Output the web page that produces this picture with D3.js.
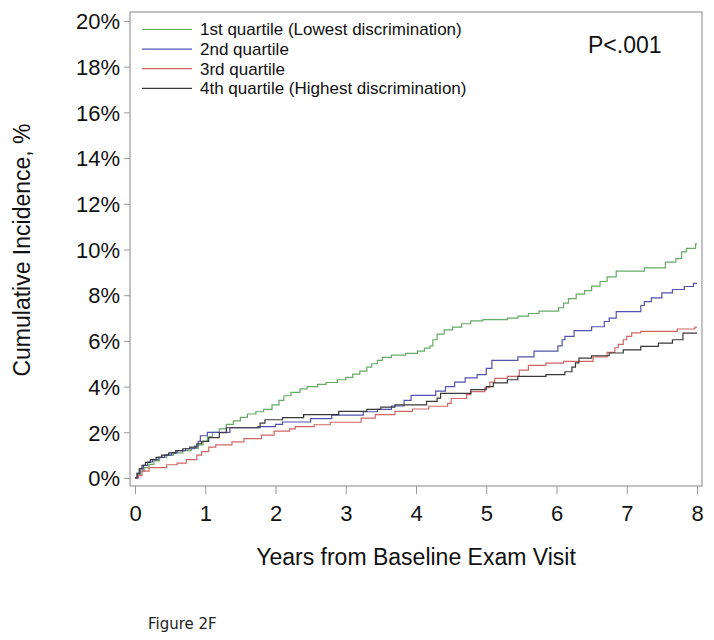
<!DOCTYPE html>
<html><head><meta charset="utf-8">
<script src="https://cdn.jsdelivr.net/npm/d3@7"></script>
<style>body{margin:0;background:#fff;} svg{display:block;}</style>
</head><body>
<svg id="chart" width="714" height="640"></svg>
<script>
const seriesNames = ["1st quartile (Lowest discrimination)","2nd quartile","3rd quartile","4th quartile (Highest discrimination)"];
const seriesColors = ["#66aa66","#5252b0","#d06666","#383838"];
const xTicks = [0,1,2,3,4,5,6,7,8];
const yTicks = [0,2,4,6,8,10,12,14,16,18,20];

const q1 = [[0,0],[0.04,0.15],[0.08,0.3],[0.13,0.45],[0.2,0.6],[0.27,0.75],[0.35,0.9],[0.45,1.0],[0.55,1.1],[0.68,1.2],[0.8,1.3],[0.9,1.45],[0.97,1.6],[1.03,1.8],[1.1,2.0],[1.2,2.15],[1.3,2.35],[1.4,2.5],[1.5,2.65],[1.6,2.8],[1.72,2.9],[1.83,3.0],[1.95,3.2],[2.05,3.4],[2.12,3.6],[2.22,3.75],[2.35,3.9],[2.45,4.0],[2.6,4.1],[2.72,4.18],[2.88,4.3],[3.0,4.4],[3.1,4.55],[3.2,4.68],[3.3,4.85],[3.37,5.0],[3.45,5.15],[3.52,5.28],[3.65,5.38],[3.85,5.45],[4.02,5.55],[4.12,5.68],[4.2,5.78],[4.24,6.05],[4.3,6.3],[4.4,6.48],[4.52,6.6],[4.65,6.75],[4.78,6.88],[4.95,6.93],[5.3,7.0],[5.45,7.08],[5.6,7.2],[5.75,7.3],[6.03,7.45],[6.1,7.65],[6.17,7.85],[6.28,8.05],[6.4,8.2],[6.5,8.4],[6.62,8.6],[6.72,8.8],[6.85,9.05],[7.25,9.2],[7.55,9.45],[7.7,9.6],[7.78,9.9],[7.85,10.05],[7.98,10.25],[8.0,10.25]];
const q2 = [[0,0],[0.03,0.2],[0.07,0.4],[0.12,0.55],[0.18,0.7],[0.25,0.8],[0.33,0.9],[0.42,1.0],[0.52,1.1],[0.6,1.2],[0.72,1.28],[0.85,1.4],[0.9,1.6],[0.93,1.85],[1.03,2.0],[1.35,2.2],[1.75,2.25],[2.0,2.35],[2.1,2.45],[2.5,2.6],[2.8,2.75],[3.25,2.9],[3.45,3.0],[3.65,3.15],[3.83,3.4],[3.93,3.62],[4.28,3.8],[4.42,4.0],[4.55,4.2],[4.7,4.38],[4.87,4.52],[5.0,4.8],[5.08,5.15],[5.45,5.3],[5.68,5.55],[6.02,5.78],[6.08,6.05],[6.12,6.2],[6.25,6.45],[6.5,6.62],[6.68,6.85],[6.75,7.0],[6.85,7.28],[7.2,7.55],[7.25,7.72],[7.35,7.88],[7.5,8.1],[7.65,8.25],[7.82,8.38],[7.95,8.52],[8.0,8.52]];
const q3 = [[0,0],[0.05,0.1],[0.1,0.3],[0.2,0.45],[0.45,0.58],[0.6,0.65],[0.73,0.8],[0.88,1.0],[0.95,1.15],[1.05,1.35],[1.15,1.45],[1.38,1.58],[1.55,1.72],[1.8,1.88],[1.98,2.05],[2.2,2.15],[2.28,2.25],[2.55,2.33],[2.78,2.44],[3.22,2.62],[3.42,2.77],[3.7,2.92],[3.95,3.02],[4.18,3.14],[4.45,3.27],[4.5,3.48],[4.72,3.65],[4.78,3.78],[4.98,3.95],[5.05,4.2],[5.12,4.36],[5.3,4.45],[5.47,4.72],[5.6,4.93],[5.85,5.03],[6.1,5.1],[6.52,5.3],[6.72,5.5],[6.83,5.7],[6.88,5.85],[6.95,6.05],[7.0,6.2],[7.07,6.35],[7.2,6.42],[7.72,6.52],[7.97,6.6],[8.0,6.6]];
const q4 = [[0,0],[0.03,0.2],[0.06,0.4],[0.1,0.55],[0.15,0.68],[0.22,0.8],[0.3,0.9],[0.38,1.0],[0.48,1.1],[0.58,1.2],[0.68,1.28],[0.78,1.35],[0.88,1.5],[0.95,1.6],[1.05,1.77],[1.2,1.98],[1.3,2.2],[1.78,2.4],[1.85,2.55],[2.1,2.64],[2.4,2.77],[2.9,2.92],[3.3,3.0],[3.5,3.1],[3.7,3.2],[4.15,3.35],[4.3,3.5],[4.35,3.7],[4.78,3.87],[5.0,4.0],[5.1,4.16],[5.3,4.3],[5.45,4.45],[5.85,4.52],[6.12,4.65],[6.22,4.85],[6.27,5.04],[6.32,5.25],[6.5,5.35],[6.75,5.47],[6.95,5.61],[7.2,5.76],[7.45,5.9],[7.65,6.05],[7.8,6.34],[8.0,6.34]];
const allSeries = [q1,q2,q3,q4];

const svg = d3.select("#chart");
const frame = {left:130, right:702, top:12, bottom:486};
const x = d3.scaleLinear().domain([0,8]).range([135,697]);
const y = d3.scaleLinear().domain([0,20]).range([478,21]);
const font = "Liberation Sans, Arial, Helvetica, sans-serif";

// frame
svg.append("rect").attr("x",frame.left).attr("y",frame.top)
  .attr("width",frame.right-frame.left).attr("height",frame.bottom-frame.top)
  .attr("fill","none").attr("stroke","#999").attr("stroke-width",1.2);

// y axis
const yAxis = d3.axisLeft(y).tickValues(yTicks).tickFormat(d=>d+"%").tickSize(6).tickPadding(4);
const gy = svg.append("g").attr("transform",`translate(${frame.left},0)`).call(yAxis);
gy.select(".domain").remove();
gy.selectAll("line").attr("stroke","#999");
gy.selectAll("text").attr("font-family",font).attr("font-size",22).attr("fill","#111").attr("dy","0.35em");

// x axis
const xAxis = d3.axisBottom(x).tickValues(xTicks).tickFormat(d3.format("d")).tickSize(8).tickPadding(11);
const gx = svg.append("g").attr("transform",`translate(0,${frame.bottom})`).call(xAxis);
gx.select(".domain").remove();
gx.selectAll("line").attr("stroke","#999");
gx.selectAll("text").attr("font-family",font).attr("font-size",22).attr("fill","#111");

// titles
svg.append("text").attr("x",416).attr("y",565).attr("text-anchor","middle")
  .attr("font-family",font).attr("font-size",23).attr("fill","#111").text("Years from Baseline Exam Visit");
svg.append("text").attr("transform","translate(30,250) rotate(-90)").attr("text-anchor","middle")
  .attr("font-family",font).attr("font-size",23).attr("fill","#111").text("Cumulative Incidence, %");

// lines
const line = d3.line().x(d=>x(d[0])).y(d=>y(d[1])).curve(d3.curveStepAfter);
allSeries.forEach((s,i)=>{
  svg.append("path").datum(s).attr("d",line).attr("fill","none")
    .attr("stroke",seriesColors[i]).attr("stroke-width",1.2);
});

// legend
const leg = svg.append("g");
seriesNames.forEach((n,i)=>{
  const yy = 29.5 + i*19.6;
  leg.append("line").attr("x1",142).attr("x2",192).attr("y1",yy).attr("y2",yy)
    .attr("stroke",seriesColors[i]).attr("stroke-width",1.2);
  leg.append("text").attr("x",200).attr("y",yy).attr("dy","0.35em")
    .attr("font-family",font).attr("font-size",17).attr("fill","#111").text(n);
});

svg.append("text").attr("x",588).attr("y",53).attr("font-family",font).attr("font-size",23)
  .attr("fill","#111").text("P<.001");

svg.append("text").attr("x",148).attr("y",629).attr("font-family","DejaVu Sans, Verdana, sans-serif")
  .attr("font-size",15).attr("fill","#222").text("Figure 2F");
</script>
</body></html>
